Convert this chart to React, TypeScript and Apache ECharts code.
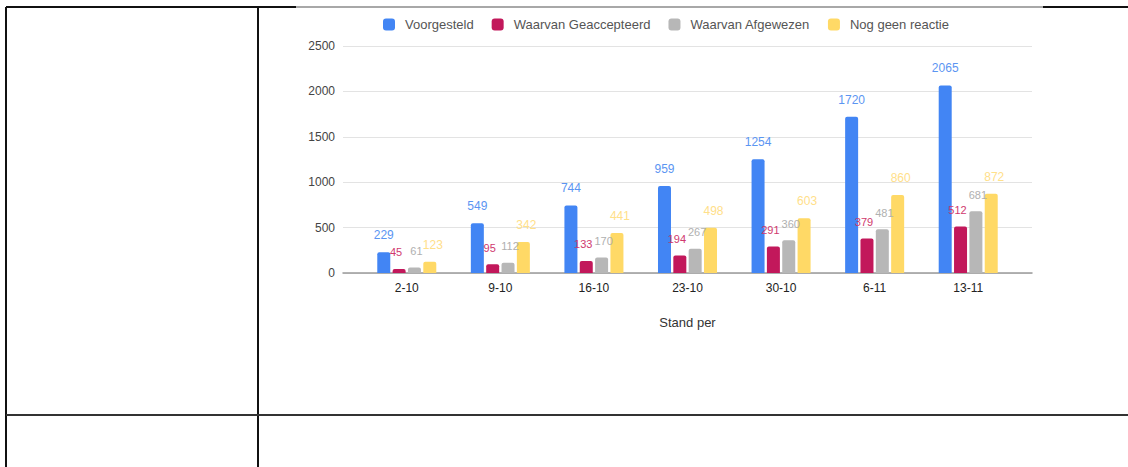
import React, { useEffect, useRef } from "react";
import * as echarts from "echarts";

const categories = ["2-10", "9-10", "16-10", "23-10", "30-10", "6-11", "13-11"];
const seriesNames = ["Voorgesteld", "Waarvan Geaccepteerd", "Waarvan Afgewezen", "Nog geen reactie"];
const voorgesteld = [229, 549, 744, 959, 1254, 1720, 2065];
const geaccepteerd = [45, 95, 133, 194, 291, 379, 512];
const afgewezen = [61, 112, 170, 267, 360, 481, 681];
const geenReactie = [123, 342, 441, 498, 603, 860, 872];
const barColors = ["#4285F4", "#C2185B", "#B7B7B7", "#FFD966"];
const labelColors = ["#5B95F2", "#D0396E", "#B0B0B0", "#FFE08A"];
const yTicks = { min: 0, max: 2500, interval: 500 };
const xAxisName = "Stand per";

const FONT = "'Liberation Sans', Arial, sans-serif";

export default function App() {
  const ref = useRef<HTMLDivElement>(null);
  useEffect(() => {
    if (!ref.current) return;
    const chart = echarts.init(ref.current, undefined, { renderer: "svg" });
    const values = [voorgesteld, geaccepteerd, afgewezen, geenReactie];
    const labelOffsets = [[0, 0], [-3, 0], [2, 0], [3, 0]];
    const labelSizes = [12, 11, 11, 12];
    const line = (x1: number, y1: number, x2: number, y2: number, stroke = "#111") => ({
      type: "line",
      shape: { x1, y1, x2, y2 },
      style: { stroke, lineWidth: 2 },
      z: 100,
    });
    chart.setOption({
      animation: false,
      backgroundColor: "#ffffff",
      textStyle: { fontFamily: FONT },
      legend: {
        left: 378,
        top: 13,
        itemWidth: 12,
        itemHeight: 12,
        itemGap: 18,
        icon: "roundRect",
        textStyle: { fontSize: 13, color: "#555", fontFamily: FONT, padding: [0, 0, 0, 5] },
        data: seriesNames,
      },
      grid: [
        { left: 343, right: 96, top: 46, bottom: 194, containLabel: false },
        { left: 360, right: 113, top: 46, bottom: 194, containLabel: false },
      ],
      xAxis: [
        {
          type: "value",
          gridIndex: 0,
          min: 0,
          max: 1,
          axisLine: { show: true, onZero: false, lineStyle: { color: "#9a9a9a", width: 1.5 } },
          axisTick: { show: false },
          axisLabel: { show: false },
          splitLine: { show: false },
        },
        {
          type: "category",
          gridIndex: 1,
          data: categories,
          axisLine: { show: false },
          axisTick: { show: false },
          axisLabel: { color: "#222", fontSize: 12, margin: 9, fontFamily: FONT },
          name: xAxisName,
          nameLocation: "middle",
          nameGap: 43,
          nameTextStyle: { color: "#333", fontSize: 13, fontFamily: FONT },
        },
      ],
      yAxis: [
        {
          type: "value",
          gridIndex: 0,
          min: yTicks.min,
          max: yTicks.max,
          interval: yTicks.interval,
          axisLine: { show: false },
          axisTick: { show: false },
          axisLabel: {
            color: "#444",
            fontSize: 12,
            margin: 8,
            fontFamily: FONT,
            formatter: (v: number) => String(v),
          },
          splitLine: { lineStyle: { color: "#e3e3e3", width: 1 } },
        },
        {
          type: "value",
          gridIndex: 1,
          min: yTicks.min,
          max: yTicks.max,
          interval: yTicks.interval,
          show: false,
          splitLine: { show: false },
        },
      ],
      series: seriesNames.map((name, i) => ({
        name,
        type: "bar",
        xAxisIndex: 1,
        yAxisIndex: 1,
        data: values[i],
        barWidth: 13,
        barGap: "18%",
        itemStyle: { color: barColors[i], borderRadius: [2, 2, 0, 0] },
        label: {
          show: true,
          position: "top",
          distance: 11,
          offset: labelOffsets[i],
          color: labelColors[i],
          fontSize: labelSizes[i],
          fontFamily: FONT,
        },
      })),
      graphic: [
        line(6, 7, 296, 7),
        line(296, 7, 1043, 7, "#a8a8a8"),
        line(1043, 7, 1128, 7),
        line(6, 7, 6, 467),
        line(258, 7, 258, 467),
        line(6, 415, 1128, 415, "#333"),
      ],
    });
    return () => chart.dispose();
  }, []);
  return (
    <div
      ref={ref}
      style={{ position: "fixed", left: 0, top: 0, width: 1128, height: 467, background: "#fff" }}
    />
  );
}
